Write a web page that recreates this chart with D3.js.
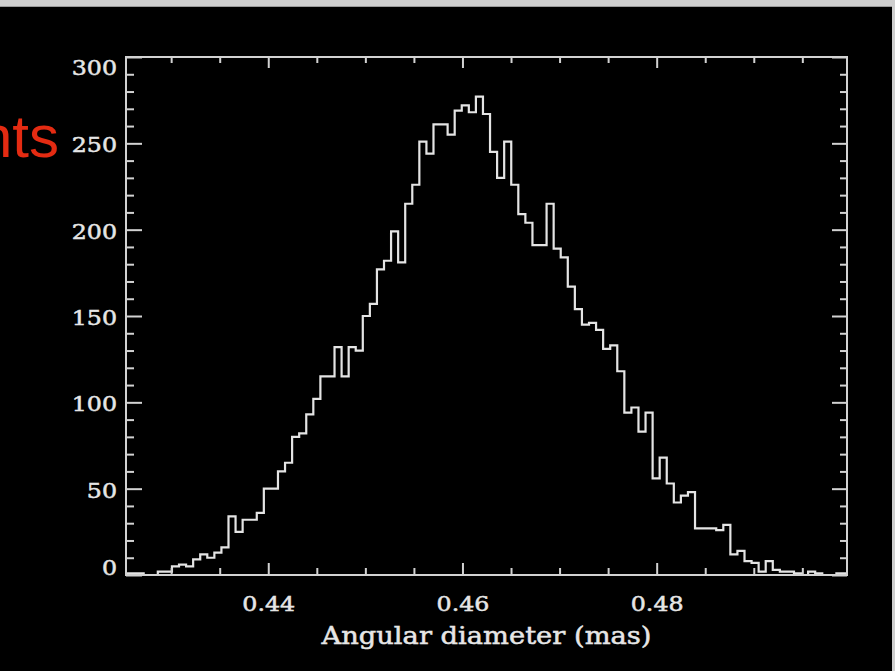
<!DOCTYPE html>
<html>
<head>
<meta charset="utf-8">
<script src="https://cdn.jsdelivr.net/npm/d3@7"></script>
<style>
    html, body { margin: 0; padding: 0; background: #000; overflow: hidden; }
    svg { display: block; }
</style>
</head>
<body>
<div id="js-svg-container"></div>
<script>
// counts per bin, left to right
let counts = [
    1, 1, 1, 0, 0, 2, 2, 5, 6, 5,
    9, 12, 10, 13, 16, 34, 25, 32, 32, 36,
    50, 50, 60, 65, 80, 82, 93, 102, 115, 115,
    132, 115, 132, 130, 150, 157, 177, 182, 199, 181,
    215, 226, 251, 244, 261, 261, 255, 269, 272, 268,
    277, 267, 245, 230, 251, 226, 209, 204, 191, 191,
    215, 189, 184, 167, 154, 145, 146, 142, 131, 133,
    118, 94, 97, 83, 94, 56, 68, 53, 42, 46,
    48, 27, 27, 27, 26, 29, 12, 14, 8, 7,
    2, 8, 3, 2, 2, 1, 0, 2, 1, 0,
    0, 1, 1
];

let xRange = [0.42535, 0.4996];
let yRange = [0, 300];
let xMajorTicks = [0.44, 0.46, 0.48];
let xMinorTicks = [0.43, 0.435, 0.445, 0.45, 0.455, 0.465, 0.47, 0.475, 0.485, 0.49, 0.495];
let yMajorTicks = [0, 50, 100, 150, 200, 250, 300];
let yMinorTicks = [10, 20, 30, 40, 60, 70, 80, 90, 110, 120, 130, 140,
    160, 170, 180, 190, 210, 220, 230, 240, 260, 270, 280, 290];
let xTitle = 'Angular diameter (mas)';
let sideLabel = 'Counts';

let width = 895;
let height = 671;
let margin = { top: 57, right: 48, bottom: 96, left: 126 };
let axisColor = '#d2d2d2';
let textColor = '#e6e6e6';
let lineColor = '#e4e4e4';

let svg = d3.select('#js-svg-container')
    .append('svg')
    .attr('width', width)
    .attr('height', height);

svg.append('rect').attr('width', width).attr('height', height).attr('fill', '#000');

// grey edge of the slide window
svg.append('rect').attr('x', 0).attr('y', 0).attr('width', width).attr('height', 7).attr('fill', '#cfcfcf');
svg.append('rect').attr('x', 0).attr('y', 6).attr('width', width).attr('height', 1).attr('fill', '#9a9a9a');
svg.append('rect').attr('x', 892).attr('y', 0).attr('width', 3).attr('height', height).attr('fill', '#cfcfcf');

// slide text running off the left edge, as in the original
svg.append('text')
    .attr('x', 59)
    .attr('y', 157)
    .attr('text-anchor', 'end')
    .style('font-family', '"Liberation Sans", Arial, sans-serif')
    .style('font-size', '60px')
    .attr('fill', '#e42b12')
    .text(sideLabel);

let x = d3.scaleLinear()
    .domain(xRange)
    .range([margin.left, width - margin.right]);

let y = d3.scaleLinear()
    .domain(yRange)
    .range([height - margin.bottom, margin.top]);

let binWidth = (xRange[1] - xRange[0]) / (counts.length - 1);
let bins = counts.map((c, i) => { return { center: xRange[0] + i * binWidth, count: c }; });

let histLine = d3.line()
    .x(d => x(d.center))
    .y(d => y(d.count))
    .curve(d3.curveStep);

svg.append('path')
    .datum(bins)
    .attr('d', histLine)
    .attr('fill', 'none')
    .attr('stroke', lineColor)
    .attr('stroke-width', 2.2);

function styleAxis(g) {
    g.select('.domain').remove();
    g.selectAll('line').attr('stroke', axisColor).attr('stroke-width', 2);
    g.selectAll('text')
        .attr('fill', textColor)
        .attr('stroke', textColor)
        .attr('stroke-width', 0.5)
        .style('font-family', '"DejaVu Serif", serif')
        .style('font-size', '21px');
}

let x0 = margin.left, x1 = width - margin.right;
let y0 = height - margin.bottom, y1 = margin.top;

// left axis
svg.append('g').attr('transform', 'translate(' + x0 + ',0)')
    .call(d3.axisLeft(y).tickValues(yMinorTicks).tickSize(-8).tickSizeOuter(0).tickFormat(''))
    .call(styleAxis);
let yAxisG = svg.append('g').attr('transform', 'translate(' + x0 + ',0)')
    .call(d3.axisLeft(y).tickValues(yMajorTicks).tickSize(-16).tickSizeOuter(0).tickPadding(9))
    .call(styleAxis);

// right axis
svg.append('g').attr('transform', 'translate(' + x1 + ',0)')
    .call(d3.axisRight(y).tickValues(yMinorTicks).tickSize(-7).tickSizeOuter(0).tickFormat(''))
    .call(styleAxis);
svg.append('g').attr('transform', 'translate(' + x1 + ',0)')
    .call(d3.axisRight(y).tickValues(yMajorTicks).tickSize(-15).tickSizeOuter(0).tickFormat(''))
    .call(styleAxis);

// bottom axis
svg.append('g').attr('transform', 'translate(0,' + y0 + ')')
    .call(d3.axisBottom(x).tickValues(xMinorTicks).tickSize(-7).tickSizeOuter(0).tickFormat(''))
    .call(styleAxis);
svg.append('g').attr('transform', 'translate(0,' + y0 + ')')
    .call(d3.axisBottom(x).tickValues(xMajorTicks).tickSize(-12).tickSizeOuter(0)
        .tickPadding(21).tickFormat(d3.format('.2f')))
    .call(styleAxis);

// top axis
svg.append('g').attr('transform', 'translate(0,' + y1 + ')')
    .call(d3.axisTop(x).tickValues(xMinorTicks).tickSize(-6).tickSizeOuter(0).tickFormat(''))
    .call(styleAxis);
svg.append('g').attr('transform', 'translate(0,' + y1 + ')')
    .call(d3.axisTop(x).tickValues(xMajorTicks).tickSize(-11).tickSizeOuter(0).tickFormat(''))
    .call(styleAxis);

// end labels sit inside the frame, like the original plot
yAxisG.selectAll('.tick text')
    .attr('dy', d => d === 300 ? '0.85em' : (d === 0 ? '-0.02em' : '0.4em'));

// wide glyphs of the original font
svg.selectAll('.tick text').each(function() {
    let w = this.getComputedTextLength();
    d3.select(this).attr('textLength', w * 1.13).attr('lengthAdjust', 'spacingAndGlyphs');
});

// frame
svg.append('rect')
    .attr('x', x0)
    .attr('y', y1)
    .attr('width', x1 - x0)
    .attr('height', y0 - y1)
    .attr('fill', 'none')
    .attr('stroke', axisColor)
    .attr('stroke-width', 2);

svg.append('text')
    .attr('x', (x0 + x1) / 2)
    .attr('y', 644)
    .attr('text-anchor', 'middle')
    .attr('fill', textColor)
    .attr('stroke', textColor)
    .attr('stroke-width', 0.5)
    .attr('textLength', 330)
    .attr('lengthAdjust', 'spacingAndGlyphs')
    .style('font-family', '"DejaVu Serif", serif')
    .style('font-size', '24px')
    .text(xTitle);
</script>
</body>
</html>
